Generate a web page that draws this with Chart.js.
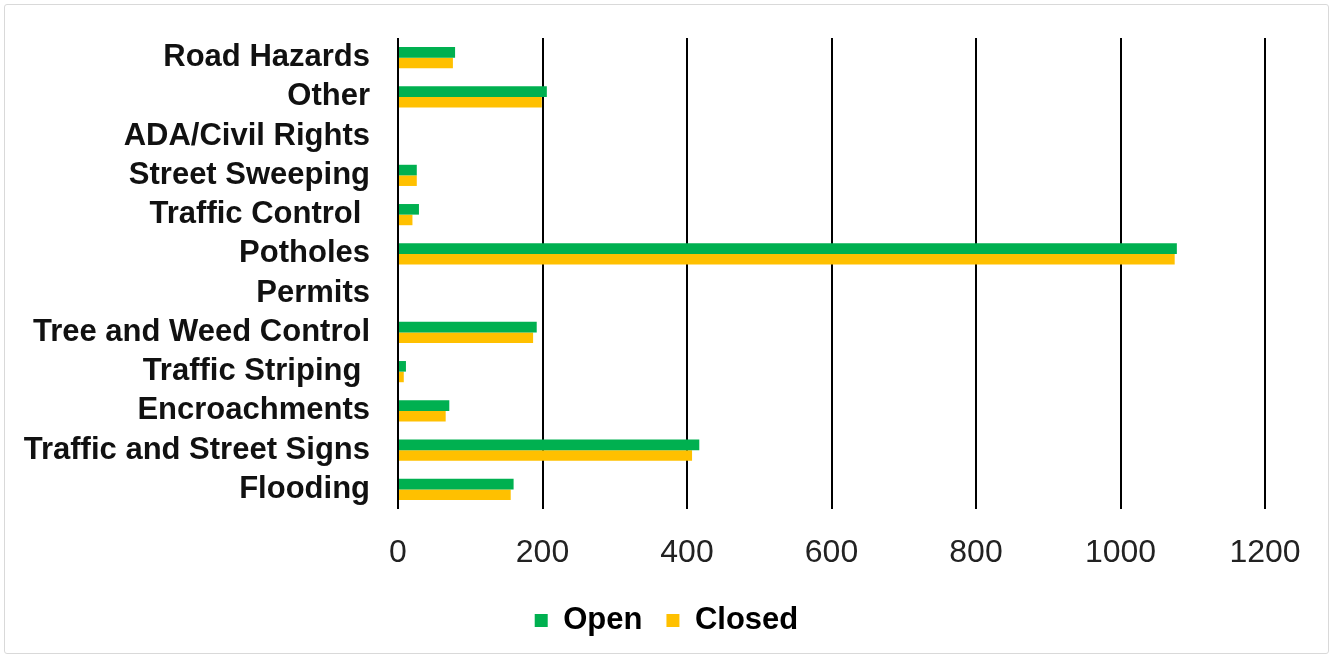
<!DOCTYPE html>
<html>
<head>
<meta charset="utf-8">
<script src="https://cdn.jsdelivr.net/npm/chart.js@4"></script>
<style>
  html, body { margin: 0; padding: 0; background: #fff; }
  #chart { position: absolute; left: 0; top: 0; }
  .frame { position: absolute; left: 4px; top: 4px; width: 1323px; height: 648px; border: 1px solid #d9d9d9; border-radius: 3px; pointer-events: none; }
</style>
</head>
<body>
<canvas id="chart" width="1333" height="658"></canvas>
<div class="frame"></div>
<script>
const categories = [
  "Road Hazards", "Other", "ADA/Civil Rights", "Street Sweeping", "Traffic Control ",
  "Potholes", "Permits", "Tree and Weed Control", "Traffic Striping ", "Encroachments",
  "Traffic and Street Signs", "Flooding"
];
const openVals   = [79, 206, 0, 26, 29, 1078, 0, 192, 11, 71, 417, 160];
const closedVals = [76, 199, 0, 26, 20, 1075, 0, 187, 8, 66, 407, 156];
const xTicks = [0, 200, 400, 600, 800, 1000, 1200];

const ctx = document.getElementById("chart").getContext("2d");
const fam = "Liberation Sans, Arial, sans-serif";

// the legend is centred on the whole page, not on the padded area
const centerLegend = {
  id: "centerLegend",
  afterLayout(chart) {
    chart.legend.left = 0;
    chart.legend.right = chart.width;
    chart.legend.width = chart.width;
  }
};

new Chart(ctx, {
  type: "bar",
  data: {
    labels: categories,
    datasets: [
      { label: "Open", data: openVals, backgroundColor: "#00b050" },
      { label: "Closed", data: closedVals, backgroundColor: "#ffc000" }
    ]
  },
  plugins: [centerLegend],
  options: {
    indexAxis: "y",
    responsive: false,
    animation: false,
    datasets: { bar: { barPercentage: 1, categoryPercentage: 0.54 } },
    layout: { padding: { top: 38, right: 68, left: 0, bottom: 12 } },
    plugins: {
      legend: {
        position: "bottom",
        labels: {
          color: "#000",
          font: { family: fam, size: 31, weight: "bold" },
          boxWidth: 13, boxHeight: 13, padding: 24
        }
      },
      tooltip: { enabled: false }
    },
    scales: {
      x: {
        min: 0, max: 1200,
        afterBuildTicks: (s) => { s.ticks = xTicks.map(v => ({ value: v })); },
        afterFit: (s) => { s.height = 72; },
        grid: { color: "#000", lineWidth: 2, drawTicks: false },
        border: { display: false },
        ticks: { color: "#222", padding: 25, maxRotation: 0, autoSkip: false,
                 font: { family: fam, size: 32 }, callback: (v) => String(v) }
      },
      y: {
        afterFit: (s) => { s.width = 398; s.paddingTop = 0; s.paddingBottom = 0; },
        grid: { display: false, drawTicks: false },
        border: { display: false },
        ticks: { color: "#111", padding: 28, autoSkip: false,
                 font: { family: fam, size: 31, weight: "bold" } }
      }
    }
  }
});
</script>
</body>
</html>
